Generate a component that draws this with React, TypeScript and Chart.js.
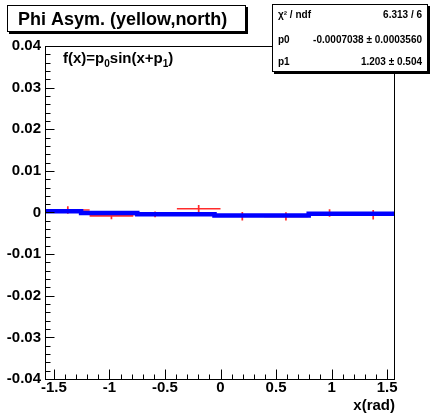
import React, { useEffect, useRef } from "react";
import { Chart, registerables } from "chart.js";
Chart.register(...registerables);

// ---- data ----
const binEdges = [-1.5708, -1.1781, -0.7854, -0.3927, 0, 0.3927, 0.7854, 1.1781, 1.5708];
const binValues = [0.0006, -0.0008, -0.00043, 0.0009, -0.0009, -0.00095, -0.0001, -0.00055];
const binErrors = [0.0009, 0.0008, 0.0007, 0.0009, 0.001, 0.001, 0.0009, 0.00115];
// fit curve (blue) as rendered in the picture: step boundaries and levels
const fitX = [-1.5708, -1.255, -0.749, -0.054, 0.794, 1.5708];
const fitY = [0.0003, -0.0001, -0.00045, -0.00075, -0.0003, -0.0003];

const xTickValues = [-1.5, -1, -0.5, 0, 0.5, 1, 1.5];
const xTickLabels = ["-1.5", "-1", "-0.5", "0", "0.5", "1", "1.5"];
const yTickValues = [-0.04, -0.03, -0.02, -0.01, 0, 0.01, 0.02, 0.03, 0.04];
const yTickLabels = ["-0.04", "-0.03", "-0.02", "-0.01", "0", "0.01", "0.02", "0.03", "0.04"];

const titleText = "Phi Asym. (yellow,north)";
const xAxisTitle = "x(rad)";
const statsLabels = ["\u03c7\u00b2 / ndf", "p0", "p1"];
const statsValues = ["6.313 / 6", "-0.0007038 \u00b1 0.0003560", "1.203 \u00b1 0.504"];

const X_MIN = -1.5708;
const X_MAX = 1.5708;
const Y_MIN = -0.04;
const Y_MAX = 0.04;

const FONT = '"Liberation Sans", Arial, Helvetica, sans-serif';

const rootPlugin = {
  id: "rootStyle",
  beforeDatasetsDraw(chart: any) {
    const { ctx, chartArea, scales } = chart;
    const xs = scales.x;
    const ys = scales.y;
    ctx.save();
    ctx.beginPath();
    ctx.rect(chartArea.left, chartArea.top, chartArea.right - chartArea.left, chartArea.bottom - chartArea.top);
    ctx.clip();
    ctx.strokeStyle = "rgba(255,20,20,0.9)";
    ctx.lineWidth = 1.7;
    for (let i = 0; i < binValues.length; i++) {
      const x0 = xs.getPixelForValue(binEdges[i]);
      const x1 = xs.getPixelForValue(binEdges[i + 1]);
      const xc = xs.getPixelForValue((binEdges[i] + binEdges[i + 1]) / 2);
      const yc = ys.getPixelForValue(binValues[i]);
      const yt = ys.getPixelForValue(binValues[i] + binErrors[i]);
      const yb = ys.getPixelForValue(binValues[i] - binErrors[i]);
      ctx.beginPath();
      ctx.moveTo(x0, yc);
      ctx.lineTo(x1, yc);
      ctx.moveTo(xc, yt);
      ctx.lineTo(xc, yb);
      ctx.stroke();
    }
    ctx.restore();
  },
  afterDatasetsDraw(chart: any) {
    const { ctx, chartArea, scales } = chart;
    const xs = scales.x;
    const ys = scales.y;
    const L = chartArea.left - 0.5;
    const R = chartArea.right - 0.5;
    const T = chartArea.top + 0.5;
    const B = chartArea.bottom + 0.5;
    ctx.save();
    // frame
    ctx.strokeStyle = "#000";
    ctx.lineWidth = 1;
    ctx.strokeRect(L, T, R - L, B - T);
    // y ticks (inside, on left edge)
    ctx.beginPath();
    for (let v = Y_MIN; v <= Y_MAX + 1e-9; v += 0.002) {
      const py = Math.round(ys.getPixelForValue(v)) + 0.5;
      const isMajor = Math.abs(Math.round(v * 100) - v * 100) < 1e-6;
      ctx.moveTo(L, py);
      ctx.lineTo(L + (isMajor ? 9 : 5), py);
    }
    // x ticks (inside, on bottom edge)
    for (let v = -1.5; v <= 1.5 + 1e-9; v += 0.1) {
      const px = Math.round(xs.getPixelForValue(v)) + 0.5;
      const isMajor = Math.abs(Math.round(v * 2) - v * 2) < 1e-6;
      ctx.moveTo(px, B);
      ctx.lineTo(px, B - (isMajor ? 10 : 5));
    }
    ctx.stroke();

    // formula text
    ctx.fillStyle = "#000";
    ctx.textAlign = "left";
    ctx.textBaseline = "alphabetic";
    const big = `bold 15px ${FONT}`;
    const small = `bold 10px ${FONT}`;
    const parts: [string, string, number][] = [
      ["f(x)=p", big, 0],
      ["0", small, 4],
      ["sin(x+p", big, 0],
      ["1", small, 4],
      [")", big, 0],
    ];
    let fx = 63;
    const fy = 63;
    for (const [t, f, dy] of parts) {
      ctx.font = f;
      ctx.fillText(t, fx, fy + dy);
      fx += ctx.measureText(t).width;
    }

    // title box
    ctx.fillStyle = "#fff";
    ctx.fillRect(7.5, 5.5, 238, 26);
    ctx.strokeRect(7.5, 5.5, 238, 26);
    ctx.fillStyle = "#000";
    ctx.fillRect(246, 7, 2, 27);
    ctx.fillRect(9, 32, 239, 2);
    ctx.font = `bold 18px ${FONT}`;
    ctx.fillText(titleText, 18, 25);

    // stats box
    ctx.fillStyle = "#fff";
    ctx.fillRect(272.5, 4.5, 155, 67);
    ctx.strokeRect(272.5, 4.5, 155, 67);
    ctx.fillStyle = "#000";
    ctx.fillRect(428, 6, 2, 68);
    ctx.fillRect(274, 72, 156, 2);
    ctx.font = `bold 10px ${FONT}`;
    ctx.textBaseline = "middle";
    const rowY = [15.5, 40, 62];
    for (let i = 0; i < statsLabels.length; i++) {
      ctx.textAlign = "left";
      ctx.fillText(statsLabels[i], 278, rowY[i]);
      ctx.textAlign = "right";
      ctx.fillText(statsValues[i], 422, rowY[i]);
    }
    ctx.restore();
  },
};

export default function App() {
  const ref = useRef<HTMLCanvasElement | null>(null);
  useEffect(() => {
    document.body.style.margin = "0";
    const canvas = ref.current;
    if (!canvas) return;
    const chart = new Chart(canvas, {
      type: "line",
      data: {
        datasets: [
          {
            label: "fit",
            data: fitX.map((x, i) => ({ x, y: fitY[i] })),
            borderColor: "#0000ff",
            borderWidth: 4.5,
            pointRadius: 0,
            stepped: "before",
            fill: false,
          },
        ],
      },
      options: {
        responsive: false,
        animation: false,
        devicePixelRatio: 1,
        layout: { padding: { left: 0, top: 46, right: 36, bottom: 0 } },
        plugins: { legend: { display: false }, tooltip: { enabled: false }, title: { display: false } },
        scales: {
          x: {
            type: "linear",
            min: X_MIN,
            max: X_MAX,
            grid: { display: false, drawTicks: false },
            border: { display: false },
            afterBuildTicks: (s: any) => {
              s.ticks = xTickValues.map((v) => ({ value: v }));
            },
            afterFit: (s: any) => {
              s.height = 38;
            },
            ticks: {
              autoSkip: false,
              maxRotation: 0,
              padding: 0,
              color: "#000",
              font: { family: FONT, size: 15, weight: "bold", lineHeight: 1.2 },
              callback: (_v: any, i: number) => xTickLabels[i],
            },
            title: {
              display: true,
              text: xAxisTitle,
              align: "end",
              color: "#000",
              font: { family: FONT, size: 15, weight: "bold", lineHeight: 1.2 },
              padding: { top: 0, bottom: 2 },
            },
          },
          y: {
            type: "linear",
            min: Y_MIN,
            max: Y_MAX,
            grid: { display: false, drawTicks: false },
            border: { display: false },
            afterBuildTicks: (s: any) => {
              s.ticks = yTickValues.map((v) => ({ value: v }));
            },
            afterFit: (s: any) => {
              s.width = 46;
            },
            ticks: {
              autoSkip: false,
              padding: 5,
              color: "#000",
              font: { family: FONT, size: 15, weight: "bold" },
              callback: (_v: any, i: number) => yTickLabels[i],
            },
          },
        },
      },
      plugins: [rootPlugin],
    } as any);
    return () => chart.destroy();
  }, []);
  return (
    <div style={{ position: "absolute", left: 0, top: 0, width: 431, height: 417, background: "#fff" }}>
      <canvas ref={ref} width={431} height={417} />
    </div>
  );
}
